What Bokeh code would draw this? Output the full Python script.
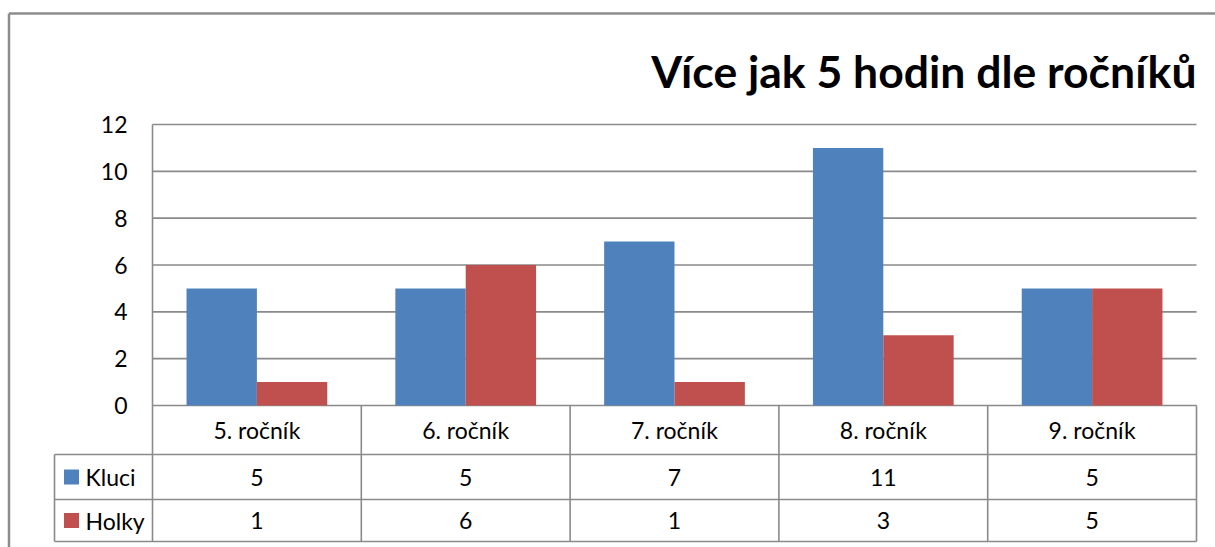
from bokeh.plotting import figure
from bokeh.models import Range1d
from bokeh.core.properties import value
from bokeh.embed import file_html
from bokeh.resources import INLINE

# ---- data ----
categories = ["5. ročník", "6. ročník", "7. ročník", "8. ročník", "9. ročník"]
series_names = ["Kluci", "Holky"]
kluci = [5, 5, 7, 11, 5]
holky = [1, 6, 1, 3, 5]
y_ticks = [0, 2, 4, 6, 8, 10, 12]
title_text = "Více jak 5 hodin dle ročníků"

# ---- style / layout constants (pixels on the page) ----
BLUE = "#4F81BD"
RED = "#C0504D"
GRID = "#8a8a8a"
BORDER = "#8c8c8c"
FONT = "Lato"
FS = "23px"
OX, OY = 0, 0                    # page position of the canvas
W, H = 1215, 547
PLOT_L, PLOT_R = 152, 1196       # plot area left / right on page
Y0_PX, YTOP_PX = 405, 124        # page y of value 0 and of top tick
n = len(categories)
ymax = max(y_ticks)
U = (PLOT_R - PLOT_L) / n        # px per category
PXY = (Y0_PX - YTOP_PX) / ymax   # px per value unit
BAR_W = 0.337
ROW_OFFS = [0, 49, 94, 136]      # table row lines, px below value 0
LEG_W = 98                       # legend column width, px


def py(px_below_zero):
    return -px_below_zero / PXY


x_start = -0.5 - (PLOT_L - OX) / U
x_end = n - 0.5 + (OX + W - PLOT_R) / U
y_start = -(OY + H - Y0_PX) / PXY
y_end = (Y0_PX - OY) / PXY

p = figure(width=W, height=H, output_backend="svg", toolbar_location=None,
           x_range=Range1d(x_start, x_end), y_range=Range1d(y_start, y_end),
           x_axis_location=None, y_axis_location=None,
           min_border_left=0, min_border_right=0, min_border_top=0, min_border_bottom=0)
p.outline_line_color = None
p.xgrid.visible = False
p.ygrid.visible = False
p.background_fill_color = "white"
p.border_fill_color = "white"

idx = list(range(n))
left_plot = -0.5
right_plot = n - 0.5
row_y = [py(o) for o in ROW_OFFS]
leg_left = left_plot - LEG_W / U

# chart-area border (top and left)
top_y = (Y0_PX - 13) / PXY
left_x = -0.5 - (PLOT_L - 8.5) / U
p.segment(x0=[left_x], x1=[x_end], y0=[top_y], y1=[top_y], line_color=BORDER, line_width=2.5)
p.segment(x0=[left_x], x1=[left_x], y0=[y_start], y1=[top_y], line_color=BORDER, line_width=2.5)

# horizontal gridlines (value 0 is also the table top)
p.segment(x0=[left_plot] * len(y_ticks), x1=[right_plot] * len(y_ticks),
          y0=y_ticks, y1=y_ticks, line_color=GRID, line_width=1.6)

# bars
p.vbar(x=[i - BAR_W / 2 for i in idx], top=kluci, bottom=0, width=BAR_W, color=BLUE, line_color=None)
p.vbar(x=[i + BAR_W / 2 for i in idx], top=holky, bottom=0, width=BAR_W, color=RED, line_color=None)

# value axis line, continuing as table border
p.segment(x0=[left_plot], x1=[left_plot], y0=[row_y[-1]], y1=[ymax], line_color=GRID, line_width=1.6)

# table: vertical lines
vx = [i + 0.5 for i in idx]
p.segment(x0=vx, x1=vx, y0=[row_y[-1]] * n, y1=[0] * n, line_color=GRID, line_width=1.6)
p.segment(x0=[leg_left], x1=[leg_left], y0=[row_y[-1]], y1=[row_y[1]], line_color=GRID, line_width=1.6)
# table: horizontal lines
hy = row_y[1:]
p.segment(x0=[leg_left] * len(hy), x1=[right_plot] * len(hy), y0=hy, y1=hy,
          line_color=GRID, line_width=1.6)

# y tick labels
p.text(x=[left_plot] * len(y_ticks), y=y_ticks, text=[str(t) for t in y_ticks],
       x_offset=-25, text_font=value(FONT), text_font_size=FS, text_align="right",
       text_baseline="middle", text_color="black")

# table texts
centers = [(row_y[k] + row_y[k + 1]) / 2 for k in range(3)]
txt = dict(text_font=value(FONT), text_font_size=FS, text_align="center",
           text_baseline="middle", text_color="black")
p.text(x=idx, y=[centers[0]] * n, text=categories, **txt)
p.text(x=idx, y=[centers[1]] * n, text=[str(v) for v in kluci], **txt)
p.text(x=idx, y=[centers[2]] * n, text=[str(v) for v in holky], **txt)

# legend keys in the table
p.scatter(x=[leg_left + 17 / U] * 2, y=centers[1:], marker="square", size=15,
          fill_color=[BLUE, RED], line_color=None)
p.text(x=[leg_left + 31 / U] * 2, y=centers[1:], text=series_names,
       text_font=value(FONT), text_font_size=FS, text_align="left",
       text_baseline="middle", text_color="black")

# title
p.text(x=[right_plot], y=[(Y0_PX - 70) / PXY], text=[title_text],
       text_font=value(FONT), text_font_size="44.5px", text_font_style="bold",
       text_align="right", text_baseline="middle", text_color="black")

open("out.html", "w").write(file_html(p, INLINE))
